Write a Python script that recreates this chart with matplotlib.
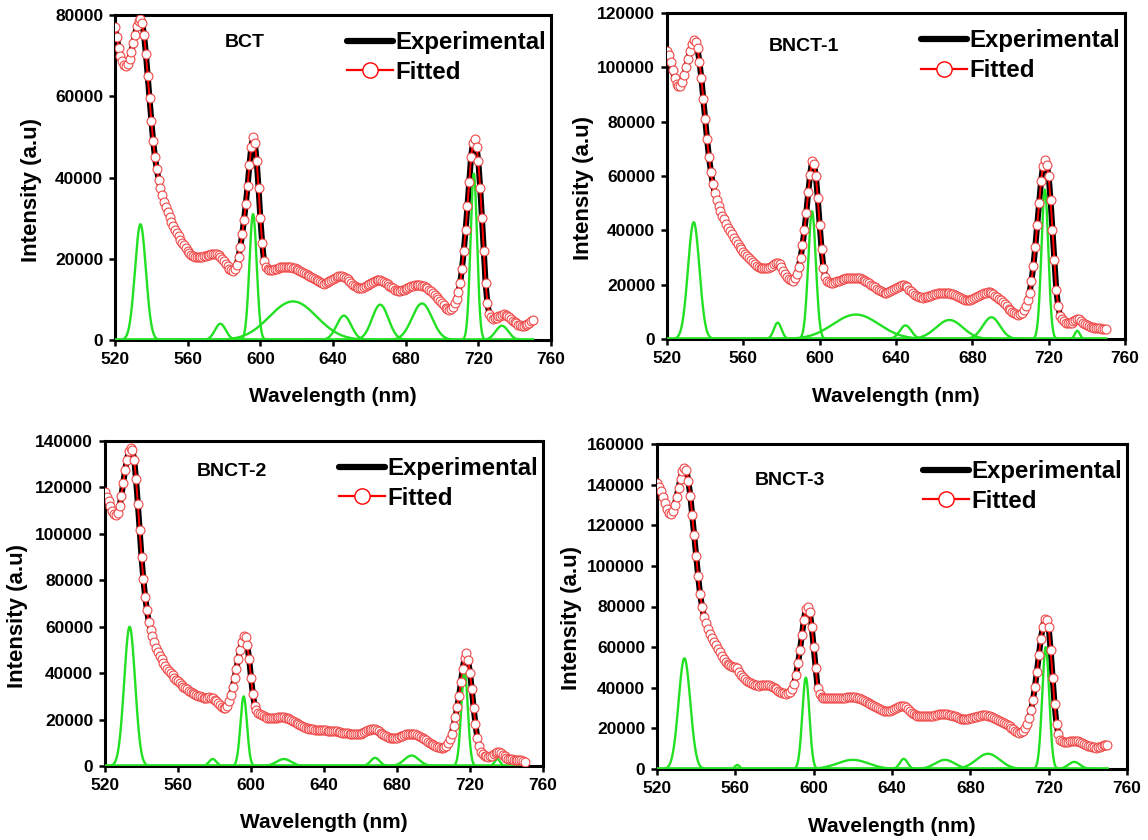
import numpy as np
import matplotlib
matplotlib.use("Agg")
import matplotlib.pyplot as plt
from matplotlib.lines import Line2D

plt.rcParams['font.family'] = ['Liberation Sans', 'DejaVu Sans']
plt.rcParams['font.weight'] = 'bold'

# ---------------- data ----------------
wavelength = list(range(520, 751))  # nm, 1 nm steps 520..750

bct_intensity = [
    77000, 74500, 72000, 70000, 68800, 67800, 67500, 68000, 69200, 71000,
    73000, 75200, 77200, 78600, 79000, 78000, 75000, 70500, 65000, 59500,
    54000, 49000, 45000, 42000, 39500, 37400, 35600, 34000, 32700, 31400,
    30200, 29100, 28100, 27200, 26300, 25500, 24700, 24000, 23300, 22600,
    22000, 21500, 21000, 20700, 20500, 20400, 20400, 20400, 20500, 20600,
    20800, 20900, 21000, 21100, 21200, 21200, 21100, 20900, 20500, 20000,
    19400, 18800, 18200, 17600, 17200, 17100, 17400, 18500, 20500, 23000,
    26000, 29500, 33500, 38000, 43000, 47500, 50000, 48500, 44000, 37500,
    30000, 24000, 19500, 18000, 17500, 17300, 17200, 17300, 17500, 17600,
    17800, 17900, 18000, 18000, 18000, 18000, 18000, 17900, 17800, 17700,
    17500, 17200, 17000, 16800, 16500, 16200, 16000, 15700, 15500, 15200,
    15000, 14700, 14500, 14200, 14000, 13900, 14000, 14200, 14500, 14800,
    15000, 15300, 15500, 15700, 15800, 15700, 15500, 15200, 15000, 14500,
    14000, 13600, 13200, 13000, 12800, 12700, 12800, 13000, 13200, 13500,
    13800, 14100, 14300, 14500, 14700, 14800, 14700, 14600, 14400, 14100,
    13800, 13400, 13000, 12700, 12400, 12200, 12100, 12100, 12200, 12400,
    12600, 12800, 13000, 13200, 13400, 13500, 13600, 13600, 13500, 13400,
    13200, 13000, 12700, 12400, 12000, 11500, 11000, 10500, 10000, 9500,
    9000, 8500, 8000, 7700, 7500, 7700, 8200, 9000, 10000, 11800,
    14000, 17500, 22000, 27000, 33000, 39000, 45000, 48500, 49500, 47500,
    44000, 37500, 30000, 22000, 14000, 9000, 6500, 5600, 5200, 5300,
    5500, 5800, 6000, 6200, 6300, 6200, 6000, 5600, 5200, 4800,
    4500, 4100, 3800, 3600, 3500, 3500, 3700, 4000, 4300, 4600,
    5000]

bnct1_intensity = [
    106000, 104500, 102000, 99000, 96000, 94000, 93000, 93000, 94500, 97000,
    100000, 103000, 106000, 108500, 110000, 109500, 107000, 102000, 96000, 88500,
    81000, 73500, 67000, 61500, 57000, 53800, 51000, 48800, 47000, 45400,
    44000, 42400, 41000, 39700, 38500, 37200, 36000, 35000, 34000, 33000,
    32000, 31200, 30500, 29700, 29000, 28200, 27500, 27000, 26500, 26200,
    26000, 26000, 26000, 26200, 26500, 27000, 27500, 27800, 28000, 27500,
    26500, 25200, 24000, 23000, 22000, 21600, 21500, 22300, 24000, 26500,
    30000, 34500, 40000, 46500, 54000, 60500, 65500, 64500, 60000, 52000,
    42000, 33000, 26000, 23000, 21500, 20800, 20500, 20700, 21000, 21200,
    21500, 21800, 22000, 22200, 22500, 22500, 22500, 22500, 22500, 22500,
    22500, 22300, 22000, 21800, 21500, 21000, 20500, 20000, 19500, 19000,
    18500, 18000, 17500, 17200, 17000, 17000, 17200, 17600, 18000, 18400,
    18800, 19200, 19500, 19700, 19800, 19600, 19000, 18200, 17500, 16800,
    16200, 15800, 15500, 15300, 15200, 15300, 15500, 15700, 16000, 16200,
    16500, 16700, 16800, 16900, 17000, 17000, 17000, 16900, 16800, 16600,
    16500, 16200, 16000, 15600, 15200, 14800, 14500, 14300, 14300, 14500,
    14800, 15100, 15500, 15800, 16200, 16500, 16800, 17000, 17200, 17200,
    17000, 16500, 16000, 15400, 14800, 14200, 13500, 12700, 12000, 11200,
    10500, 10000, 9500, 9200, 9000, 9100, 9500, 10500, 12000, 14200,
    17000, 21500, 27000, 34000, 42000, 50000, 58000, 63500, 66000, 64000,
    60000, 51000, 40000, 29000, 18000, 12000, 8500, 7200, 6500, 6000,
    5800, 5800, 6000, 6500, 7000, 7300, 7200, 6600, 6000, 5500,
    5000, 4700, 4500, 4300, 4200, 4100, 4000, 3900, 3800, 3700,
    3600]

bnct2_intensity = [
    118000, 116000, 114000, 112000, 110000, 108500, 108000, 109000, 112000, 116500,
    122000, 127500, 132000, 135500, 137000, 136000, 132000, 123500, 113000, 101500,
    90000, 80500, 73000, 67000, 62000, 58800, 56000, 53400, 51000, 49200,
    47500, 46000, 44500, 43200, 42000, 41000, 40000, 39000, 38000, 37200,
    36500, 35700, 35000, 34200, 33500, 33000, 32500, 32000, 31500, 31000,
    30500, 30200, 30000, 29700, 29500, 29500, 29500, 29600, 29500, 29200,
    28500, 27800, 27000, 26200, 25500, 25100, 25000, 26000, 28000, 30800,
    34000, 38000, 42000, 46000, 50000, 53500, 56000, 55500, 52000, 46000,
    38000, 31000, 26000, 24000, 23000, 22500, 22000, 21500, 21000, 20700,
    20500, 20500, 20500, 20600, 20800, 20900, 21000, 21000, 21000, 20800,
    20500, 20200, 19800, 19400, 19000, 18500, 18000, 17600, 17200, 16800,
    16500, 16200, 16000, 15900, 15800, 15700, 15600, 15600, 15500, 15400,
    15300, 15300, 15200, 15200, 15200, 15100, 15000, 14900, 14700, 14500,
    14400, 14300, 14200, 14100, 14000, 13900, 13800, 13800, 13800, 13900,
    14000, 14200, 14500, 14900, 15300, 15600, 15800, 15900, 15800, 15500,
    15000, 14400, 13800, 13300, 12800, 12500, 12200, 12100, 12000, 12100,
    12200, 12500, 12800, 13100, 13400, 13600, 13800, 13900, 14000, 13900,
    13700, 13400, 13000, 12500, 12000, 11500, 11000, 10500, 10000, 9500,
    9000, 8600, 8200, 8000, 7800, 7800, 8000, 8800, 10000, 11800,
    14000, 17300, 21000, 25500, 30000, 36000, 42000, 46500, 48500, 45500,
    40000, 33000, 25000, 18000, 12000, 8500, 6000, 5000, 4500, 4200,
    4000, 4100, 4500, 5200, 5800, 6100, 6000, 5500, 4800, 4100,
    3500, 3200, 3000, 2900, 2800, 2700, 2600, 2500, 2400, 2100,
    1800]

bnct3_intensity = [
    141000, 139000, 137000, 134000, 131000, 128000, 126000, 125500, 127000, 130000,
    134000, 138500, 143000, 146500, 148000, 147000, 142000, 134500, 125000, 115000,
    105000, 95000, 86000, 80000, 75000, 71800, 69000, 66500, 64500, 62700,
    61000, 59300, 57500, 55700, 54000, 52700, 51500, 51000, 50500, 50200,
    50000, 49500, 48000, 46500, 45500, 44400, 43500, 43000, 42500, 42000,
    41500, 41200, 41000, 41200, 41500, 41600, 41500, 41300, 41000, 40500,
    40000, 39200, 38500, 38000, 37500, 37200, 37000, 37300, 38000, 39500,
    42000, 46500, 52000, 58500, 66000, 73500, 79000, 80000, 77500, 70000,
    60000, 49500, 40000, 37000, 35500, 35200, 35000, 35000, 35000, 35000,
    35000, 35000, 35000, 35000, 35000, 35100, 35200, 35300, 35500, 35500,
    35500, 35300, 35000, 34800, 34500, 34000, 33500, 33000, 32500, 32000,
    31500, 31000, 30500, 30000, 29500, 29000, 28500, 28400, 28500, 28700,
    29000, 29500, 30000, 30500, 31000, 31200, 31000, 30300, 29500, 28500,
    27500, 27000, 26500, 26200, 26000, 26000, 26000, 26000, 26000, 26100,
    26200, 26300, 26500, 26700, 27000, 27000, 27000, 27000, 27000, 26800,
    26500, 26300, 26000, 25500, 25000, 24700, 24500, 24400, 24500, 24700,
    25000, 25200, 25500, 25800, 26000, 26200, 26500, 26500, 26500, 26300,
    26000, 25500, 25000, 24500, 24000, 23500, 23000, 22500, 22000, 21500,
    21000, 20200, 19500, 18700, 18000, 17800, 18000, 18800, 20000, 22200,
    25000, 29000, 34000, 40500, 48000, 56000, 64000, 70000, 74000, 73500,
    70000, 58500, 45000, 32000, 22000, 17000, 14500, 13800, 13500, 13500,
    13500, 13700, 14000, 14000, 14000, 13800, 13500, 13000, 12500, 12000,
    11500, 11200, 11000, 10700, 10500, 10600, 11000, 11500, 12000, 12000,
    12000]

# fitted Gaussian components: centre (nm), height, sigma (nm)
bct_centres = [534, 578, 596, 618, 646, 666, 689, 717.5, 733]
bct_heights = [28500, 4000, 31000, 9500, 6000, 8700, 9000, 41000, 3500]
bct_sigmas = [3.0, 3.0, 2.0, 13, 4.0, 4.5, 5.5, 1.8, 3.5]

bnct1_centres = [534, 578, 596, 619, 645, 668, 690, 718, 735]
bnct1_heights = [43000, 6000, 47000, 9000, 5000, 7000, 8000, 55000, 3000]
bnct1_sigmas = [3.0, 2.0, 2.0, 12, 3.0, 7.0, 4.5, 1.8, 1.3]

bnct2_centres = [533.5, 579, 596, 618, 668, 688, 717, 735]
bnct2_heights = [60000, 3000, 30000, 3000, 3500, 4500, 41000, 3000]
bnct2_sigmas = [3.0, 2.0, 1.8, 4.0, 2.5, 4.0, 1.8, 1.5]

bnct3_centres = [534, 561, 596, 620, 646, 667, 689, 718.5, 733]
bnct3_heights = [54500, 2000, 45000, 4500, 5000, 4500, 7500, 60000, 3500]
bnct3_sigmas = [3.0, 1.2, 1.8, 8.0, 2.0, 5.0, 6.0, 1.8, 3.0]

sample_names = ["BCT", "BNCT-1", "BNCT-2", "BNCT-3"]
y_max = [80000, 120000, 140000, 160000]
x_ticks = [520, 560, 600, 640, 680, 720, 760]

# ---------------- layout (pixels) ----------------
W, H = 1148, 840
boxes_px = [(115, 551, 15, 340), (667, 1125, 13, 339),
            (105, 543, 441, 766), (657, 1127, 444, 769)]
title_pos = [(0.298, 0.914), (0.30, 0.896), (0.29, 0.905), (0.283, 0.889)]
ylabel_x = [32, 583, 18, 571]

series = [
    (bct_intensity, bct_centres, bct_heights, bct_sigmas),
    (bnct1_intensity, bnct1_centres, bnct1_heights, bnct1_sigmas),
    (bnct2_intensity, bnct2_centres, bnct2_heights, bnct2_sigmas),
    (bnct3_intensity, bnct3_centres, bnct3_heights, bnct3_sigmas),
]

fig = plt.figure(figsize=(W / 100, H / 100), dpi=100)
green = '#22e022'
xg = np.linspace(520, 750, 1200)

for i, (name, ymax, (inten, cs, hs, ss)) in enumerate(zip(sample_names, y_max, series)):
    l, r, t, b = boxes_px[i]
    ax = fig.add_axes([l / W, (H - b) / H, (r - l) / W, (b - t) / H])
    x = np.array(wavelength)
    y = np.array(inten)
    ax.plot(x, y, color='black', lw=4.3, solid_capstyle='round', zorder=2)
    ax.plot(x, y, color='red', lw=1.4, zorder=3)
    for c, h, s in zip(cs, hs, ss):
        ax.plot(xg, h * np.exp(-0.5 * ((xg - c) / s) ** 2), color=green, lw=1.7, zorder=4)
    ax.plot(x, y, ls='none', marker='o', ms=6.4, mfc='white', mec='#f04848', mew=0.8, zorder=5)

    ax.set_xlim(520, 760)
    ax.set_ylim(0, ymax)
    ax.set_xticks(x_ticks)
    ax.set_yticks(np.arange(0, ymax + 1, 20000))
    ax.set_yticklabels([str(v) for v in np.arange(0, ymax + 1, 20000)])
    for sp in ax.spines.values():
        sp.set_linewidth(2.2)
    ax.tick_params(direction='out', length=4.5, width=1.8, labelsize=12.5, pad=4)
    for lab in ax.get_xticklabels() + ax.get_yticklabels():
        lab.set_fontweight('bold')

    # axis labels placed at their pixel positions
    fig.text((l + r) / 2 / W, (H - (b + 57)) / H, 'Wavelength (nm)', ha='center', va='center',
             fontsize=15, fontweight='bold')
    fig.text(ylabel_x[i] / W, (H - ((t + b) / 2 + 12)) / H, 'Intensity (a.u)', ha='center',
             va='center', rotation=90, fontsize=16, fontweight='bold')

    ax.text(title_pos[i][0], title_pos[i][1], name, transform=ax.transAxes,
            ha='center', va='center', fontsize=14, fontweight='bold')

    h_exp = Line2D([], [], color='black', lw=4.5, solid_capstyle='round')
    h_fit = Line2D([], [], color='red', lw=1.6, marker='o', ms=11, mfc='white', mec='red', mew=1.0)
    ax.legend([h_exp, h_fit], ['Experimental', 'Fitted'], loc='upper right',
              bbox_to_anchor=(1.0, 0.965), frameon=False,
              prop={'size': 17.3, 'weight': 'bold'}, handlelength=1.9,
              handletextpad=0.1, labelspacing=0.28, borderaxespad=0.0,
              borderpad=0.2, markerscale=1.0)

fig.savefig('out.png', dpi=100)
